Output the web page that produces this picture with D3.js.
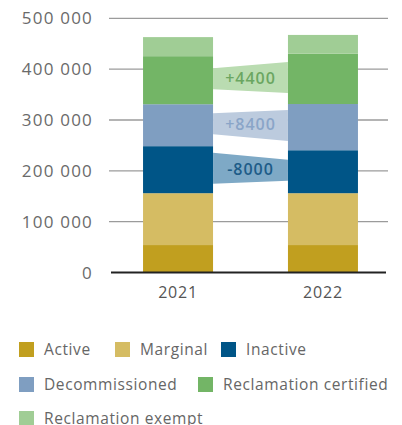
<!DOCTYPE html>
<html>
<head>
<meta charset="utf-8">
<script src="https://cdn.jsdelivr.net/npm/d3@7"></script>
<style>
    body { margin: 0; background: #fff; }
    text { font-family: 'Open Sans', sans-serif; }
</style>
</head>
<body>
<div id="chart"></div>
<script>
const years = ['2021', '2022'];
const categories = ['Active', 'Marginal', 'Inactive', 'Decommissioned', 'Reclamation certified', 'Reclamation exempt'];
const values2021 = [54000, 102000, 92500, 82500, 94500, 37500];
const values2022 = [54000, 102000, 84500, 90900, 98900, 37000];
const changeCategories = ['Inactive', 'Decommissioned', 'Reclamation certified'];
const yTicks = [0, 100000, 200000, 300000, 400000, 500000];

const colors = ['#c19f1f', '#d5bc63', '#005587', '#7f9ec1', '#73b566', '#a0cd95'];
const bandColors = { 'Inactive': '#7ea9c6', 'Decommissioned': '#bccbde', 'Reclamation certified': '#badcb1' };
const labelColors = { 'Inactive': '#1d5c88', 'Decommissioned': '#8aa5c8', 'Reclamation certified': '#6ba661' };

class StackedBars {
    constructor(parentElement) {
        this.parentElement = parentElement;
        this.initVis();
    }

    initVis() {
        let vis = this;
        vis.width = 402;
        vis.height = 425;

        vis.svg = d3.select('#' + vis.parentElement)
            .append('svg')
            .attr('width', vis.width)
            .attr('height', vis.height);

        vis.y = d3.scaleLinear()
            .domain([0, 500000])
            .range([272.5, 18.3]);

        vis.x = d3.scaleBand()
            .domain(years)
            .range([110, 391])
            .paddingInner(0.517)
            .paddingOuter(0.228);

        vis.wrangleData();
        vis.drawAxes();
        vis.drawBars();
        vis.drawChanges();
        vis.drawLegend();
    }

    wrangleData() {
        let vis = this;
        let rows = years.map((yr, j) => {
            let row = { year: yr };
            let vals = j === 0 ? values2021 : values2022;
            categories.forEach((c, i) => row[c] = vals[i]);
            return row;
        });
        vis.series = d3.stack().keys(categories)(rows);
    }

    drawAxes() {
        let vis = this;
        let fmt = d => d3.format(',')(d).replace(/,/g, ' ');

        let grid = vis.svg.append('g');
        grid.selectAll('line')
            .data(yTicks.filter(d => d > 0))
            .enter().append('line')
            .attr('x1', 109)
            .attr('x2', 388)
            .attr('y1', d => vis.y(d))
            .attr('y2', d => vis.y(d))
            .style('stroke', '#9b9b9b')
            .style('stroke-width', 1.3);

        vis.svg.append('g').selectAll('text')
            .data(yTicks)
            .enter().append('text')
            .attr('x', 93)
            .attr('y', d => vis.y(d))
            .attr('dy', '0.36em')
            .attr('text-anchor', 'end')
            .style('font-size', '17px')
            .style('letter-spacing', '1.2px')
            .style('fill', '#6a6a6a')
            .text(fmt);

        vis.svg.append('g').selectAll('text')
            .data(years)
            .enter().append('text')
            .attr('x', d => vis.x(d) + vis.x.bandwidth() / 2)
            .attr('y', 298)
            .attr('text-anchor', 'middle')
            .style('font-size', '16px')
            .style('letter-spacing', '0.8px')
            .style('fill', '#555')
            .text(d => d);
    }

    drawBars() {
        let vis = this;
        vis.svg.append('g').selectAll('g')
            .data(vis.series)
            .enter().append('g')
            .style('fill', (d, i) => colors[i])
            .selectAll('rect')
            .data(d => d)
            .enter().append('rect')
            .attr('x', d => vis.x(d.data.year))
            .attr('width', vis.x.bandwidth())
            .attr('y', d => vis.y(d[1]))
            .attr('height', d => vis.y(d[0]) - vis.y(d[1]));

        vis.svg.append('line')
            .attr('x1', 111)
            .attr('x2', 386)
            .attr('y1', vis.y(0))
            .attr('y2', vis.y(0))
            .style('stroke', '#222')
            .style('stroke-width', 2);
    }

    drawChanges() {
        let vis = this;
        let x0 = vis.x(years[0]) + vis.x.bandwidth();
        let x1 = vis.x(years[1]);

        changeCategories.forEach(cat => {
            let s = vis.series.find(d => d.key === cat);
            let a = s[0], b = s[1];
            let diff = (b[1] - b[0]) - (a[1] - a[0]);
            let c0 = vis.y((a[0] + a[1]) / 2) - 1.5;
            let c1 = vis.y((b[0] + b[1]) / 2) - 1.5;
            let h0 = diff < 0 ? 15.5 : 10.5;
            let h1 = diff < 0 ? 10.5 : 15.5;

            vis.svg.append('path')
                .attr('d', `M${x0},${c0 - h0}L${x1},${c1 - h1}L${x1},${c1 + h1}L${x0},${c0 + h0}Z`)
                .style('fill', bandColors[cat]);

            vis.svg.append('text')
                .attr('x', (x0 + x1) / 2)
                .attr('y', (c0 + c1) / 2)
                .attr('dy', '0.36em')
                .attr('text-anchor', 'middle')
                .style('font-size', '16px')
                .style('font-weight', 600)
                .style('letter-spacing', '1px')
                .style('fill', labelColors[cat])
                .text((diff > 0 ? '+' : '') + diff);
        });
    }

    drawLegend() {
        let vis = this;
        // row / column spots for the legend items
        let spots = [[19, 342], [115, 342], [221, 342], [19, 377], [198, 377], [19, 411]];

        let items = vis.svg.append('g').selectAll('g')
            .data(categories)
            .enter().append('g')
            .attr('transform', (d, i) => `translate(${spots[i][0]},${spots[i][1]})`);

        items.append('rect')
            .attr('width', 15)
            .attr('height', 15)
            .style('fill', (d, i) => colors[i]);

        items.append('text')
            .attr('x', 25)
            .attr('y', 12.5)
            .style('font-size', '15.5px')
            .style('letter-spacing', '0.6px')
            .style('fill', '#666')
            .text(d => d);
    }
}

new StackedBars('chart');
</script>
</body>
</html>
